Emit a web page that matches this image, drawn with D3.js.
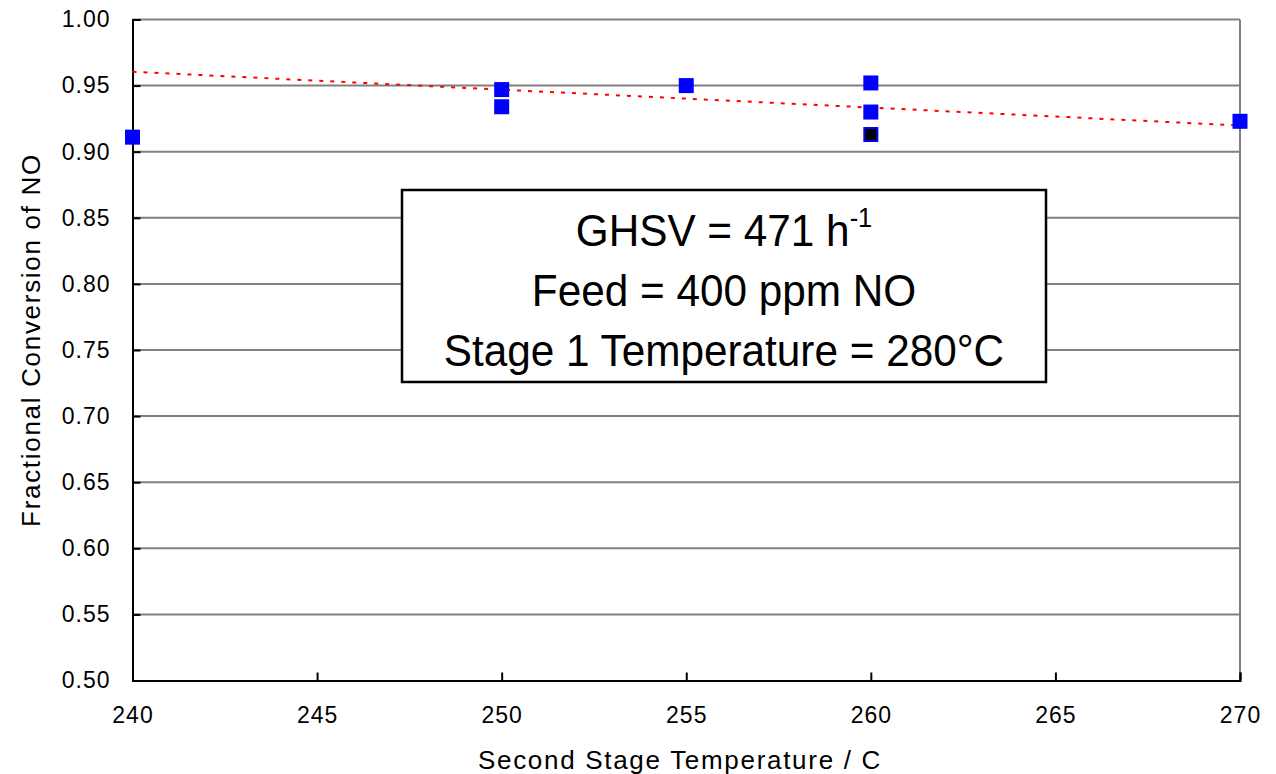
<!DOCTYPE html>
<html><head><meta charset="utf-8">
<script src="https://cdn.jsdelivr.net/npm/d3@7"></script>
<style>body{margin:0;background:#fff}text{font-family:"Liberation Sans",Arial,sans-serif}</style>
</head><body><svg id="c" width="1276" height="774"></svg>
<script>
const temps = [240, 250, 250, 255, 260, 260, 260, 270];
const conversion = [0.911, 0.947, 0.934, 0.950, 0.952, 0.930, 0.913, 0.923];
const blackTemps = [260];
const blackConversion = [0.913];
const trendTemps = [240, 270];
const trendConversion = [0.9605, 0.9198];
const xTicks = [240, 245, 250, 255, 260, 265, 270];
const yTicks = [0.50,0.55,0.60,0.65,0.70,0.75,0.80,0.85,0.90,0.95,1.00];
const boxLines = ["GHSV = 471 h", "Feed = 400 ppm NO", "Stage 1 Temperature = 280°C"];

const svg = d3.select("#c");
const L=132.5, R=1240, T=19.5, B=680.5;
const x = d3.scaleLinear().domain([240,270]).range([L,R]);
const y = d3.scaleLinear().domain([0.5,1.0]).range([B,T]);

// gridlines
svg.append("g").selectAll("line").data(yTicks.filter(d=>d>0.5)).join("line")
  .attr("x1",L).attr("x2",R).attr("y1",d=>y(d)).attr("y2",d=>y(d))
  .attr("stroke","#808080").attr("stroke-width",2);
svg.append("line").attr("x1",R).attr("x2",R).attr("y1",T).attr("y2",B)
  .attr("stroke","#808080").attr("stroke-width",2);

// axes
const yAxis = d3.axisLeft(y).tickValues(yTicks).tickFormat(d3.format(".2f")).tickSize(-8).tickPadding(22);
const gy = svg.append("g").attr("transform",`translate(${L},0)`).call(yAxis);
const xAxis = d3.axisBottom(x).tickValues(xTicks).tickFormat(d3.format("d")).tickSize(-8).tickPadding(26);
const gx = svg.append("g").attr("transform",`translate(0,${B})`).call(xAxis);
[gy,gx].forEach(g=>{
  g.select(".domain").attr("stroke","#000").attr("stroke-width",2);
  g.selectAll(".tick line").attr("stroke","#000").attr("stroke-width",2);
  g.selectAll(".tick text").attr("font-size",23).attr("letter-spacing",1).attr("fill","#000")
   .style("font-family","'Liberation Sans',Arial,sans-serif");
});
gy.selectAll(".tick text").attr("x",-22);
gx.selectAll(".tick text").attr("dy","0.71em");

// axis titles
svg.append("text").attr("x",680).attr("y",769).attr("text-anchor","middle")
  .attr("font-size",26).attr("letter-spacing",1.7).text("Second Stage Temperature / C");
svg.append("text").attr("transform",`translate(40,${340}) rotate(-90)`)
  .attr("text-anchor","middle").attr("font-size",26).attr("letter-spacing",1.7).text("Fractional Conversion of NO");

// trend line
svg.append("path").datum(trendTemps.map((t,i)=>[t,trendConversion[i]]))
  .attr("d",d3.line().x(d=>x(d[0])).y(d=>y(d[1])))
  .attr("fill","none").attr("stroke","#ff0000").attr("stroke-width",2).attr("stroke-dasharray","4,7");

// points
const s=15;
svg.append("g").selectAll("rect").data(temps.map((t,i)=>[t,conversion[i]])).join("rect")
  .attr("x",d=>x(d[0])-s/2).attr("y",d=>y(d[1])-s/2).attr("width",s).attr("height",s)
  .attr("fill","#0000ff");
const sb=11;
svg.append("g").selectAll("rect").data(blackTemps.map((t,i)=>[t,blackConversion[i]])).join("rect")
  .attr("x",d=>x(d[0])-sb/2).attr("y",d=>y(d[1])-sb/2).attr("width",sb).attr("height",sb)
  .attr("fill","#000");

// annotation box
svg.append("rect").attr("x",402).attr("y",190).attr("width",644).attr("height",192)
  .attr("fill","#fff").attr("stroke","#000").attr("stroke-width",2.5);
const cx=(402+1046)/2;
const bt = svg.append("g").attr("transform",`translate(${cx},0) scale(0.94,1)`);
const t1=bt.append("text").attr("x",0).attr("y",246).attr("text-anchor","middle").attr("font-size",45);
t1.append("tspan").text(boxLines[0]);
t1.append("tspan").attr("font-size",27).attr("dy",-19).text("-1");
bt.append("text").attr("x",0).attr("y",306).attr("text-anchor","middle").attr("font-size",45).text(boxLines[1]);
bt.append("text").attr("x",0).attr("y",366).attr("text-anchor","middle").attr("font-size",45).text(boxLines[2]);
</script></body></html>
